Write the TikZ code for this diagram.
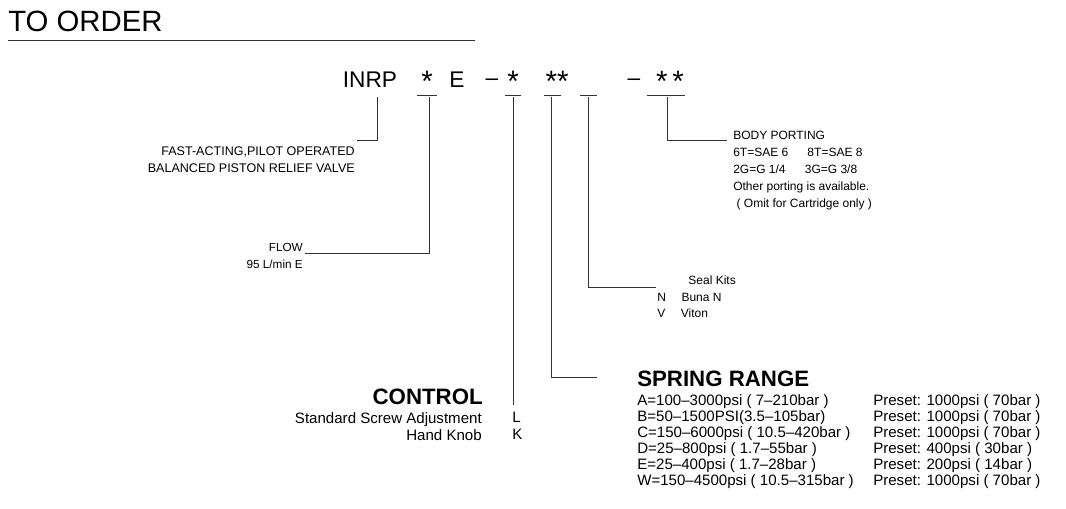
\documentclass[tikz,border=0pt]{standalone}
\usepackage{fontspec}
\setmainfont{Liberation Sans}
\usetikzlibrary{positioning}
\tikzset{
  txt/.style={font=\fontsize{9.4}{12.75}\selectfont, inner sep=0pt},
  big/.style={font=\fontsize{11.3}{12}\selectfont, inner sep=0pt},
  code/.style={font=\fontsize{17}{20}\selectfont, inner sep=0pt, anchor=base},
  head/.style={font=\fontsize{16.7}{18}\selectfont\bfseries, inner sep=0pt},
  lead/.style={line width=0.6pt, black!80}
}
\begin{document}
\begin{tikzpicture}[x=0.75pt,y=-0.75pt]
\useasboundingbox (0,0) rectangle (1066,508);
% title
\node[font=\fontsize{22}{24}\selectfont, inner sep=0pt, anchor=base west] (title) at (8,31) {TO ORDER};
\draw[lead] (8,40) -- (475,40);
% model code
\node[code] (inrp) at (370,87) {INRP};
\node[code, scale=1.3] (s1) at (427,91) {*};
\node[code] (e) at (457,87) {E};
\node[code] (d1) at (492,85) {–};
\node[code, scale=1.3] (s2) at (513,91) {*};
\node[code, scale=1.3] (s3) at (557,91) {**};
\node[code] (d2) at (634,85) {–};
\node[code, scale=1.3] (s4) at (670,91) {*\,*};
% underscores
\draw[lead] (417,95) -- (437,95);
\draw[lead] (505,95) -- (521,95);
\draw[lead] (544,95) -- (561,95);
\draw[lead] (580,95) -- (597,95);
\draw[lead] (647,95) -- (685,95);
% descriptions
\node[txt, align=right, anchor=north east] (valve) at (355,146) {FAST-ACTING,PILOT OPERATED\\BALANCED PISTON RELIEF VALVE};
\node[txt, font=\fontsize{8.8}{12.75}\selectfont, align=right, anchor=north east] (flow) at (303,243) {FLOW\\95 L/min E};
\node[txt, font=\fontsize{9}{12.75}\selectfont, align=left, anchor=north west] (body) at (733,131) {BODY PORTING\\6T=SAE 6\hspace{1.6em}8T=SAE 8\\2G=G 1/4\hspace{1.6em}3G=G 3/8\\Other porting is available.\\\ ( Omit for Cartridge only )};
\node[txt, font=\fontsize{9}{12.3}\selectfont, align=left, anchor=north west] (seal) at (657,276) {\hspace{2.6em}Seal Kits\\N\hspace{1.3em}Buna N\\V\hspace{1.3em}Viton};
\node[head, anchor=base west] (spring) at (637,386) {SPRING RANGE};
\node[big, align=left, anchor=north west] (ranges) at (637,394) {A=100–3000psi ( 7–210bar )\\B=50–1500PSI(3.5–105bar)\\C=150–6000psi ( 10.5–420bar )\\D=25–800psi ( 1.7–55bar )\\E=25–400psi ( 1.7–28bar )\\W=150–4500psi ( 10.5–315bar )};
\node[big, align=left, anchor=north west] (preset) at (873,394) {Preset: 1000psi ( 70bar )\\Preset: 1000psi ( 70bar )\\Preset: 1000psi ( 70bar )\\Preset: 400psi ( 30bar )\\Preset: 200psi ( 14bar )\\Preset: 1000psi ( 70bar )};
\node[head, anchor=base east] (control) at (483,404) {CONTROL};
\node[big, font=\fontsize{11.3}{12.75}\selectfont, align=right, anchor=north east] (adjust) at (482,412) {Standard Screw Adjustment\\Hand Knob};
\node[big, font=\fontsize{11.3}{12.75}\selectfont, align=left, anchor=north west] (letters) at (512,412) {L\\K};
% leaders
\coordinate (v1) at (377,97);
\coordinate (v2) at (429,97);
\coordinate (v3) at (513,97);
\coordinate (v4) at (551,97);
\coordinate (v5) at (588,97);
\coordinate (v6) at (667,97);
\draw[lead] (v1) |- (357,140);
\draw[lead] (v2) |- (305,253);
\draw[lead] (v3) -- (513,405);
\draw[lead] (v4) |- (597,377);
\draw[lead] (v5) |- (656,287);
\draw[lead] (v6) |- (727,140);
\end{tikzpicture}
\end{document}
